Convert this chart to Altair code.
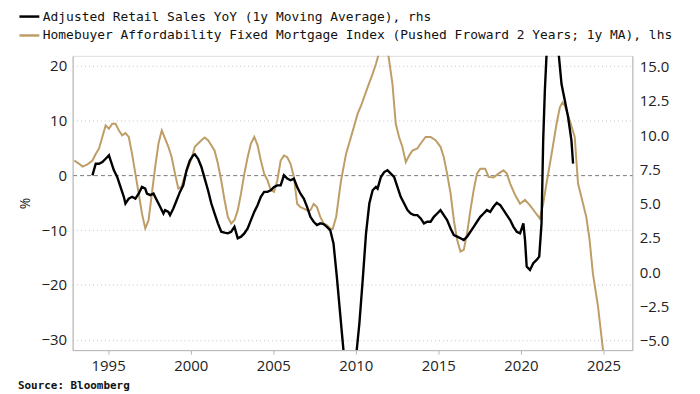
import altair as alt
import pandas as pd

S1 = "Adjusted Retail Sales YoY (1y Moving Average), rhs"
S2 = "Homebuyer Affordability Fixed Mortgage Index (Pushed Froward 2 Years; 1y MA), lhs"

gold_years = [1992.95, 1993.25, 1993.45, 1993.75, 1994.05, 1994.25, 1994.45, 1994.65, 1994.85, 1995.05,
              1995.25, 1995.45, 1995.65, 1995.85, 1996.05, 1996.25, 1996.45, 1996.65, 1996.85, 1997.05,
              1997.25, 1997.45, 1997.65, 1997.85, 1998.05, 1998.25, 1998.45, 1998.65, 1998.85, 1999.05,
              1999.25, 1999.45, 1999.65, 1999.85, 2000.05, 2000.25, 2000.45, 2000.65, 2000.85, 2001.05,
              2001.25, 2001.45, 2001.65, 2001.85, 2002.05, 2002.25, 2002.45, 2002.65, 2002.85, 2003.05,
              2003.25, 2003.45, 2003.65, 2003.85, 2004.05, 2004.25, 2004.45, 2004.65, 2004.85, 2005.05,
              2005.25, 2005.45, 2005.65, 2005.85, 2006.05, 2006.25, 2006.45, 2006.65, 2006.85, 2007.05,
              2007.25, 2007.45, 2007.65, 2007.85, 2008.05, 2008.25, 2008.45, 2008.6, 2008.81, 2009.11,
              2009.41, 2009.71, 2010.11, 2010.32, 2010.72, 2011.02, 2011.22, 2011.36, 2011.5, 2011.65,
              2011.8, 2011.98, 2012.22, 2012.42, 2012.62, 2012.82, 2013.03, 2013.23, 2013.43, 2013.73,
              2013.93, 2014.23, 2014.53, 2014.83, 2015.13, 2015.33, 2015.53, 2015.74, 2015.94, 2016.14,
              2016.34, 2016.54, 2016.74, 2016.94, 2017.14, 2017.34, 2017.54, 2017.84, 2018.04, 2018.34,
              2018.64, 2018.95, 2019.15, 2019.35, 2019.65, 2019.95, 2020.25, 2020.55, 2020.85, 2021.15,
              2021.35, 2021.55, 2021.86, 2022.16, 2022.36, 2022.52, 2022.66, 2022.96, 2023.26, 2023.46,
              2023.66, 2023.96, 2024.16, 2024.36, 2024.67, 2024.97, 2025.05]
gold_vals = [2.7, 2.1, 1.6, 2.0, 2.7, 3.9, 4.9, 7.0, 9.1, 8.5,
             9.4, 9.4, 8.2, 7.3, 7.7, 7.0, 3.9, 0.3, -3.3, -7.0,
             -9.7, -8.2, -3.3, 1.5, 5.8, 8.2, 6.7, 5.2, 3.3, 0.3,
             -2.4, -2.1, 0.0, 1.5, 3.0, 5.2, 5.8, 6.4, 6.9, 6.4,
             5.5, 4.5, 2.1, -0.9, -4.5, -7.6, -8.8, -8.2, -6.4, -3.3,
             0.3, 3.3, 5.8, 7.0, 5.5, 2.7, 0.3, -0.9, -2.7, -3.0,
             -0.9, 2.7, 3.6, 3.3, 2.1, -0.3, -5.2, -5.8, -6.1, -6.4,
             -6.4, -5.2, -5.8, -7.6, -8.8, -9.1, -9.7, -9.8, -7.6, -0.9,
             3.9, 7.0, 11.2, 12.7, 16.1, 18.5, 20.3, 21.8, 23.5, 24.3,
             23.5, 21.8, 16.7, 9.4, 7.0, 5.2, 2.4, 3.6, 4.5, 4.9,
             5.8, 7.0, 7.0, 6.4, 5.2, 3.3, 0.3, -3.3, -8.2, -11.8,
             -13.9, -13.6, -10.6, -6.4, -2.7, 0.3, 1.2, 1.2, -0.3, -0.4,
             0.3, 0.9, 0.3, -1.5, -3.6, -5.2, -4.5, -5.5, -6.7, -7.9,
             -5.2, -1.5, 3.9, 9.4, 12.4, 13.3, 12.7, 10.0, 7.0, -1.5,
             -3.9, -7.6, -11.8, -17.9, -23.9, -31.8, -33.5]

black_years = [1994.05, 1994.25, 1994.45, 1994.65, 1994.85, 1995.05, 1995.15, 1995.35, 1995.55, 1995.75,
               1995.95, 1996.05, 1996.25, 1996.45, 1996.65, 1996.85, 1997.05, 1997.25, 1997.35, 1997.55,
               1997.75, 1997.95, 1998.15, 1998.35, 1998.45, 1998.65, 1998.75, 1998.95, 1999.15, 1999.35,
               1999.55, 1999.75, 1999.95, 2000.15, 2000.25, 2000.45, 2000.65, 2000.85, 2001.05, 2001.25,
               2001.45, 2001.65, 2001.85, 2002.05, 2002.25, 2002.45, 2002.65, 2002.85, 2003.05, 2003.25,
               2003.45, 2003.65, 2003.85, 2004.05, 2004.25, 2004.45, 2004.65, 2004.85, 2005.05, 2005.25,
               2005.45, 2005.65, 2005.85, 2006.05, 2006.25, 2006.45, 2006.65, 2006.85, 2007.05, 2007.25,
               2007.45, 2007.65, 2007.85, 2008.05, 2008.25, 2008.45, 2008.65, 2008.85, 2009.05, 2009.25,
               2009.45, 2009.65, 2009.85, 2010.06, 2010.22, 2010.42, 2010.62, 2010.82, 2011.02, 2011.22,
               2011.32, 2011.52, 2011.72, 2011.92, 2012.12, 2012.32, 2012.52, 2012.72, 2012.93, 2013.13,
               2013.33, 2013.53, 2013.73, 2013.93, 2014.13, 2014.33, 2014.53, 2014.73, 2014.93, 2015.13,
               2015.33, 2015.53, 2015.74, 2015.94, 2016.14, 2016.34, 2016.54, 2016.74, 2016.94, 2017.14,
               2017.34, 2017.54, 2017.74, 2017.94, 2018.14, 2018.34, 2018.54, 2018.75, 2018.95, 2019.15,
               2019.35, 2019.55, 2019.75, 2019.95, 2020.15, 2020.25, 2020.35, 2020.55, 2020.75, 2020.95,
               2021.11, 2021.25, 2021.35, 2021.45, 2021.55, 2021.65, 2021.8, 2021.95, 2022.1, 2022.3,
               2022.46, 2022.66, 2022.86, 2023.06, 2023.16]
black_vals = [7.07, 7.92, 7.92, 8.04, 8.28, 8.53, 8.16, 7.44, 6.95, 6.22,
              5.5, 5.01, 5.37, 5.5, 5.37, 5.73, 6.22, 6.10, 5.73, 5.62,
              5.73, 5.25, 4.77, 4.28, 4.53, 4.4, 4.16, 4.65, 5.25, 5.86,
              6.34, 7.44, 8.16, 8.53, 8.6, 8.28, 7.68, 6.83, 5.98, 5.01,
              4.28, 3.56, 2.95, 2.88, 2.83, 2.95, 3.31, 2.47, 2.59, 2.83,
              3.19, 3.8, 4.4, 4.89, 5.5, 5.86, 5.86, 5.98, 6.22, 6.34,
              6.34, 7.07, 6.83, 6.71, 6.83, 6.22, 5.73, 5.37, 4.77, 4.04,
              3.68, 3.44, 3.56, 3.51, 3.31, 3.07, 2.1, -0.32, -2.99, -5.66,
              -7.5, -8.3, -7.6, -5.66, -3.72, -0.56, 2.83, 5.01, 5.98, 6.22,
              6.1, 6.95, 7.31, 7.44, 7.19, 6.95, 6.22, 5.5, 5.01, 4.53,
              4.28, 4.16, 4.16, 3.92, 3.56, 3.68, 3.68, 4.04, 4.28, 4.53,
              4.16, 3.8, 3.19, 2.71, 2.59, 2.47, 2.34, 2.59, 2.95, 3.31,
              3.68, 4.04, 4.28, 4.53, 4.4, 4.77, 5.06, 4.89, 4.53, 4.16,
              3.8, 3.31, 2.95, 2.83, 3.56, 2.34, 0.41, 0.16, 0.65, 0.89,
              1.13, 3.56, 9.62, 13.25, 15.8, 18.5, 20.0, 19.5, 18.0, 15.8,
              13.74, 12.53, 11.31, 9.62, 7.92]

x_ticks = [1995, 2000, 2005, 2010, 2015, 2020, 2025]
left_ticks = [20, 10, 0, -10, -20, -30]
right_ticks = [15.0, 12.5, 10.0, 7.5, 5.0, 2.5, 0.0, -2.5, -5.0]

gold_df = pd.DataFrame({"year": gold_years, "value": gold_vals, "series": S2})
black_df = pd.DataFrame({"year": black_years, "value": black_vals, "series": S1})

AXIS_GRAY = "#b4b4b4"
LABEL_FONT = "Open Sans"

x_enc = alt.X(
    "year:Q",
    scale=alt.Scale(domain=[1992.85, 2026.75], nice=False, zero=False),
    axis=alt.Axis(values=x_ticks, format="d", title=None, grid=False, tickSize=4,
                  tickColor=AXIS_GRAY, domainColor=AXIS_GRAY, labelFont=LABEL_FONT,
                  labelFontSize=15, labelColor="#222", labelPadding=5),
)

color_enc = alt.Color(
    "series:N",
    scale=alt.Scale(domain=[S1, S2], range=["#000000", "#bf9d66"]),
    legend=alt.Legend(
        title=None, orient="none", legendX=-55, legendY=-51, direction="vertical",
        symbolType="stroke", symbolSize=400, symbolStrokeWidth=2.5, labelOffset=2,
        labelFont="DejaVu Sans Mono", labelFontSize=13, labelColor="#111",
        labelLimit=1000, rowPadding=0, padding=0,
    ),
)

gold = alt.Chart(gold_df).mark_line(clip=True, strokeWidth=2).encode(
    x=x_enc,
    y=alt.Y(
        "value:Q",
        scale=alt.Scale(domain=[-31.9, 21.8], nice=False, zero=False),
        axis=alt.Axis(
            orient="left", values=left_ticks, title="%", titleFont=LABEL_FONT,
            titleFontSize=14, titleFontWeight="normal", titleColor="#222", titlePadding=9,
            grid=True,
            gridDash=alt.condition("datum.value === 0", alt.value([4, 3]), alt.value([1, 3])),
            gridColor=alt.condition("datum.value === 0", alt.value("#777777"), alt.value("#c4c4c4")),
            ticks=False, domainColor=AXIS_GRAY, labelFont=LABEL_FONT, labelFontSize=15,
            labelColor="#222", labelPadding=6,
        ),
    ),
    color=color_enc,
)

black = alt.Chart(black_df).mark_line(clip=True, strokeWidth=2.4).encode(
    x=x_enc,
    y=alt.Y(
        "value:Q",
        scale=alt.Scale(domain=[-5.7, 15.8], nice=False, zero=False),
        axis=alt.Axis(
            orient="right", values=right_ticks, format=".1f", title=None, grid=False,
            ticks=False, domainColor=AXIS_GRAY, labelFont=LABEL_FONT, labelFontSize=15,
            labelColor="#222", labelPadding=7,
        ),
    ),
    color=color_enc,
)

chart = alt.layer(gold, black).resolve_scale(y="independent").properties(
    width=563,
    height=296,
    autosize=alt.AutoSizeParams(type="none"),
    padding={"left": 65, "top": 47, "right": 60, "bottom": 40},
    title=alt.TitleParams(
        "Source: Bloomberg", orient="bottom", anchor="start", frame="bounds",
        font="DejaVu Sans Mono", fontWeight="bold", fontSize=11, color="#111",
        offset=6, baseline="top",
    ),
).configure_view(stroke=None).configure(background="white")

chart.save("out.html", embed_options={"renderer": "svg", "actions": False})
